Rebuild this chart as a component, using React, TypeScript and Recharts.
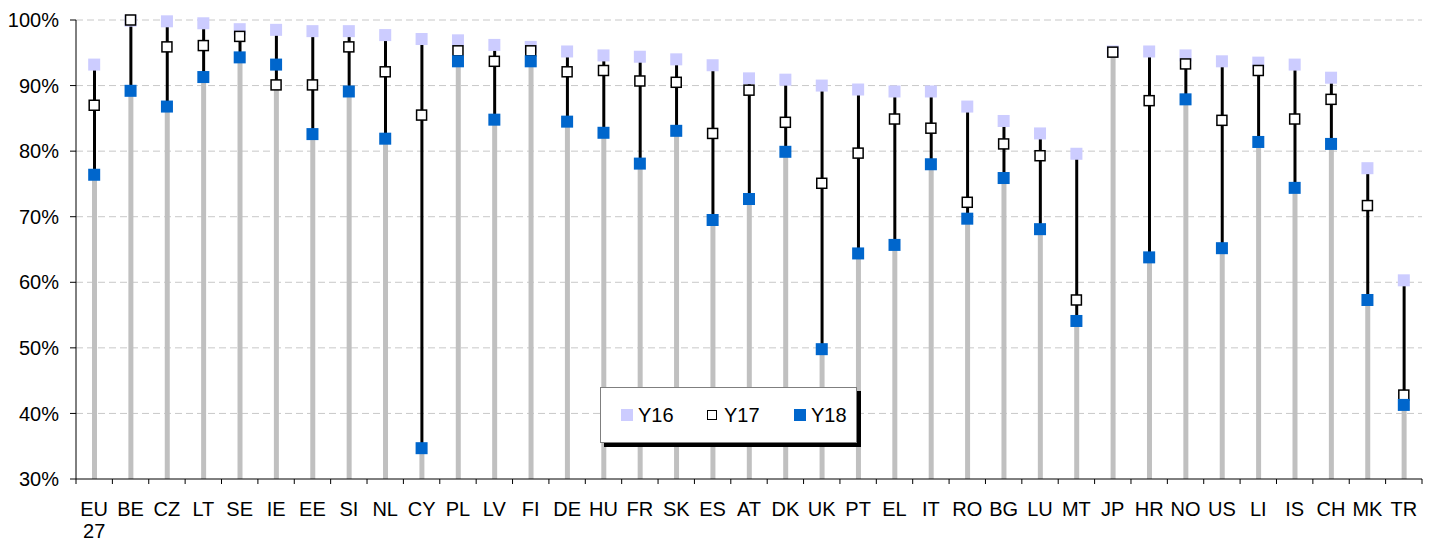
import React from 'react';
import {
  ComposedChart,
  Bar,
  Line,
  XAxis,
  YAxis,
  CartesianGrid,
  Legend
} from 'recharts';

// Countries in the order shown
const categories = [
  'EU 27', 'BE', 'CZ', 'LT', 'SE', 'IE', 'EE', 'SI', 'NL', 'CY', 'PL', 'LV', 'FI',
  'DE', 'HU', 'FR', 'SK', 'ES', 'AT', 'DK', 'UK', 'PT', 'EL', 'IT', 'RO', 'BG',
  'LU', 'MT', 'JP', 'HR', 'NO', 'US', 'LI', 'IS', 'CH', 'MK', 'TR'
];

const y16 = [
  93.2, 99.9, 99.8, 99.5, 98.6, 98.5, 98.3, 98.3, 97.7, 97.1, 96.9, 96.2, 95.9,
  95.2, 94.6, 94.4, 94.0, 93.1, 91.1, 90.9, 90.0, 89.4, 89.1, 89.1, 86.8, 84.6,
  82.7, 79.6, 95.2, 95.2, 94.6, 93.7, 93.5, 93.2, 91.2, 77.4, 60.3
];

const y17 = [
  87.0, 100.0, 95.9, 96.1, 97.5, 90.1, 90.1, 95.9, 92.1, 85.5, 95.3, 93.7, 95.3,
  92.1, 92.3, 90.7, 90.5, 82.7, 89.3, 84.4, 75.1, 79.7, 84.9, 83.5, 72.2, 81.1,
  79.3, 57.3, 95.1, 87.7, 93.3, 84.7, 92.3, 84.9, 87.9, 71.7, 42.8
];

const y18: (number | null)[] = [
  76.4, 89.2, 86.8, 91.3, 94.3, 93.2, 82.6, 89.1, 81.9, 34.7, 93.7, 84.8, 93.7,
  84.5, 82.8, 78.1, 83.1, 69.5, 72.7, 79.9, 49.8, 64.4, 65.7, 78.0, 69.7, 75.9,
  68.1, 54.1, null, 63.8, 87.9, 65.2, 81.4, 74.4, 81.1, 57.3, 41.3
];

const seriesNames = ['Y16', 'Y17', 'Y18'];
const yTicks = [30, 40, 50, 60, 70, 80, 90, 100];

const AXIS_MIN = 30;
const CHART_W = 1432;
const CHART_H = 543;
const Y_AXIS_W = 76;
const RIGHT = 10;
const band = (CHART_W - Y_AXIS_W - RIGHT) / categories.length;
const font = '"Liberation Sans", Arial, sans-serif';

const data = categories.map((name, i) => {
  const vals = [y16[i], y17[i], y18[i]].filter((v): v is number => v != null);
  const lo = Math.min(...vals);
  const hi = Math.max(...vals);
  return {
    name,
    y16: y16[i],
    y17: y17[i],
    y18: y18[i],
    base: [AXIS_MIN, lo],
    span: [lo, hi]
  };
});

const square = (size: number, fill: string, stroke?: string) => (props: any) => {
  const { cx, cy, index, value } = props;
  if (cx == null || cy == null || value == null) return <g key={`e-${index}`} />;
  return (
    <rect
      key={`d-${index}`}
      x={cx - size / 2}
      y={cy - size / 2}
      width={size}
      height={size}
      fill={fill}
      stroke={stroke || 'none'}
      strokeWidth={stroke ? 1.5 : 0}
    />
  );
};

const CategoryTick = (props: any) => {
  const { x, y, payload, index } = props;
  const lines = String(payload.value).split(' ');
  return (
    <g>
      {index === 0 && (
        <line x1={x - band / 2} x2={x - band / 2} y1={y} y2={y + 5} stroke="#000" />
      )}
      <line x1={x + band / 2} x2={x + band / 2} y1={y} y2={y + 5} stroke="#000" />
      <text x={x} y={y + 37} textAnchor="middle" fontSize={20} fontFamily={font} fill="#000">
        {lines.map((l, k) => (
          <tspan key={k} x={x} dy={k === 0 ? 0 : 22}>
            {l}
          </tspan>
        ))}
      </text>
    </g>
  );
};

const legendItems = [
  { name: seriesNames[0], mark: { left: 20, size: 12, fill: '#ccccff', border: 'none' }, text: 37 },
  { name: seriesNames[1], mark: { left: 106, size: 10, fill: '#fff', border: '1.5px solid #000' }, text: 123 },
  { name: seriesNames[2], mark: { left: 193, size: 12, fill: '#0066cc', border: 'none' }, text: 210 }
];

const LegendBox = () => (
  <div
    style={{
      position: 'relative',
      width: 257,
      height: 56,
      boxSizing: 'border-box',
      border: '1px solid #7f7f7f',
      background: '#fff',
      boxShadow: '4px 4px 0 #000',
      fontFamily: font,
      fontSize: 20,
      color: '#000'
    }}
  >
    {legendItems.map(it => (
      <React.Fragment key={it.name}>
        <div
          style={{
            position: 'absolute',
            left: it.mark.left,
            top: 27 - it.mark.size / 2,
            width: it.mark.size,
            height: it.mark.size,
            boxSizing: 'border-box',
            background: it.mark.fill,
            border: it.mark.border
          }}
        />
        <div style={{ position: 'absolute', left: it.text, top: 15, lineHeight: '24px' }}>
          {it.name}
        </div>
      </React.Fragment>
    ))}
  </div>
);

const App: React.FC = () => {
  return (
    <div style={{ position: 'absolute', left: 0, top: 0, width: CHART_W, height: CHART_H, background: '#fff' }}>
      <ComposedChart
        width={CHART_W}
        height={CHART_H}
        data={data}
        margin={{ top: 20, right: RIGHT, left: 0, bottom: 0 }}
      >
        <CartesianGrid
          vertical={false}
          stroke="#c8c8c8"
          strokeDasharray="7 4"
          horizontalValues={yTicks.filter(t => t > AXIS_MIN)}
        />
        <XAxis
          dataKey="name"
          height={64}
          interval={0}
          tickLine={false}
          tickSize={0}
          tickMargin={0}
          axisLine={{ stroke: '#000' }}
          tick={<CategoryTick />}
        />
        <XAxis dataKey="name" xAxisId="span" hide />
        <YAxis
          width={Y_AXIS_W}
          domain={[AXIS_MIN, 100]}
          ticks={yTicks}
          tickFormatter={(v: number) => `${v}%`}
          axisLine={{ stroke: '#000' }}
          tickLine={{ stroke: '#000' }}
          tickSize={6}
          tickMargin={11}
          tick={{ fill: '#000', fontSize: 20, fontFamily: font }}
        />
        <Bar dataKey="base" barSize={5} fill="#c0c0c0" isAnimationActive={false} legendType="none" />
        <Bar dataKey="span" xAxisId="span" barSize={3} fill="#000" isAnimationActive={false} legendType="none" />
        <Line
          dataKey="y16"
          name={seriesNames[0]}
          stroke="none"
          dot={square(12, '#ccccff')}
          activeDot={false}
          isAnimationActive={false}
        />
        <Line
          dataKey="y17"
          name={seriesNames[1]}
          stroke="none"
          dot={square(10, '#ffffff', '#000')}
          activeDot={false}
          isAnimationActive={false}
        />
        <Line
          dataKey="y18"
          name={seriesNames[2]}
          stroke="none"
          dot={square(12, '#0066cc')}
          activeDot={false}
          isAnimationActive={false}
        />
        <Legend
          layout="horizontal"
          verticalAlign="middle"
          align="center"
          content={<LegendBox />}
          wrapperStyle={{ left: 600, top: 387, width: 262, height: 61, bottom: 'auto' }}
        />
      </ComposedChart>
    </div>
  );
};

export default App;
